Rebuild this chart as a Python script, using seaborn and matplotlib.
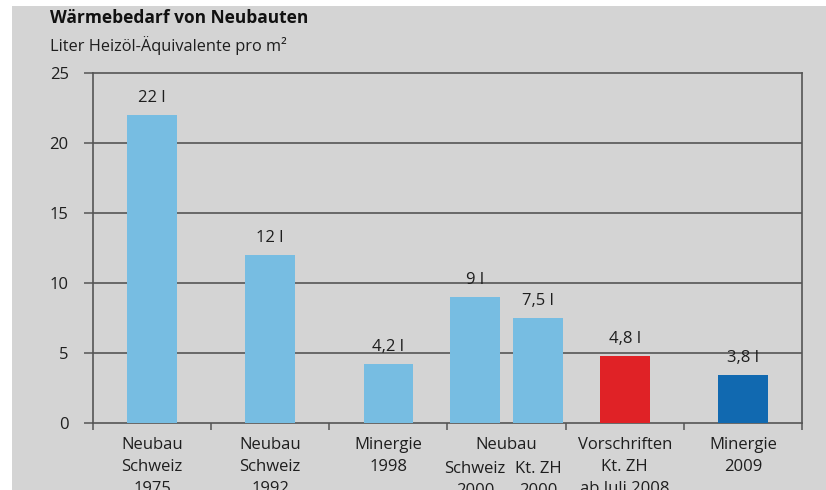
import matplotlib
matplotlib.use("Agg")
import matplotlib.pyplot as plt
import seaborn as sns
import pandas as pd
import numpy as np
from matplotlib.patches import Rectangle

# ---------------- data ----------------
category_labels = ["Neubau\nSchweiz\n1975", "Neubau\nSchweiz\n1992", "Minergie\n1998",
                   "Neubau", "Vorschriften\nKt. ZH\nab Juli 2008", "Minergie\n2009"]
bar_names = ["Neubau Schweiz 1975", "Neubau Schweiz 1992", "Minergie 1998",
             "Neubau Schweiz 2000", "Neubau Kt. ZH 2000",
             "Vorschriften Kt. ZH ab Juli 2008", "Minergie 2009"]
bar_category = [0, 1, 2, 3, 3, 4, 5]
bar_values = [22, 12, 4.2, 9, 7.5, 4.8, 3.45]
value_labels = ["22 l", "12 l", "4,2 l", "9 l", "7,5 l", "4,8 l", "3,8 l"]
sub_labels = ["", "", "", "Schweiz\n2000", "Kt. ZH\n2000", "", ""]
y_ticks = [0, 5, 10, 15, 20, 25]

# ---------------- style ----------------
LIGHT = "#77bde2"
RED = "#e02226"
DARK = "#1169b0"
bar_colors = [LIGHT, LIGHT, LIGHT, LIGHT, LIGHT, RED, DARK]
BG = "#d4d4d4"
LINE = "#555555"
TXT = "#1e1e1e"
FONT = ["Open Sans", "DejaVu Sans"]

sns.set_theme(style="white")
plt.rcParams["font.family"] = FONT
plt.rcParams["text.color"] = TXT

# positions: category centre, pairs split around it
pair_gap = 0.535
positions = []
for i, c in enumerate(bar_category):
    members = [j for j, cc in enumerate(bar_category) if cc == c]
    k = members.index(i)
    positions.append(c + 0.5 + (k - (len(members) - 1) / 2) * pair_gap)

df = pd.DataFrame({"pos": positions, "value": bar_values, "name": bar_names})

W, H = 826, 490
fig = plt.figure(figsize=(W / 100, H / 100), dpi=100, facecolor="white")
fig.patches.append(Rectangle((12 / W, 0), 1, (H - 6) / H, transform=fig.transFigure,
                             facecolor=BG, edgecolor="none", zorder=-10))
ax = fig.add_axes([93 / W, 67 / H, (802 - 93) / W, 350 / H])
ax.set_facecolor(BG)

native_unit = np.min(np.diff(np.unique(positions)))
sns.barplot(data=df, x="pos", y="value", hue="name", hue_order=bar_names,
            palette=dict(zip(bar_names, bar_colors)), native_scale=True,
            width=0.42 / native_unit, dodge=False, legend=False,
            saturation=1, errorbar=None, ax=ax, zorder=3,
            edgecolor="none", linewidth=0)

ax.set_xlim(0, len(category_labels))
ax.set_ylim(0, 25)
ax.set_xlabel("")
ax.set_ylabel("")

# y axis
ax.set_yticks(y_ticks)
ax.set_yticklabels([str(t) for t in y_ticks], fontsize=12, color=TXT)
ax.tick_params(axis="y", direction="out", length=6.5, width=1.1, color=LINE, pad=11, left=True)
for t in y_ticks[1:-1]:
    ax.axhline(t, color=LINE, lw=1.2, zorder=1)

# x axis: separators
ax.set_xticks(range(len(category_labels) + 1))
ax.set_xticklabels([])
ax.tick_params(axis="x", direction="out", length=5, width=1.1, color=LINE, bottom=True)

for s in ["left", "right", "top", "bottom"]:
    ax.spines[s].set_visible(True)
    ax.spines[s].set_color(LINE)
    ax.spines[s].set_linewidth(1.2)

# category labels
for i, lab in enumerate(category_labels):
    ax.annotate(lab, xy=(i + 0.5, 0), xycoords=("data", "axes fraction"),
                xytext=(0, -10), textcoords="offset points", ha="center", va="top",
                fontsize=12, linespacing=1.5, color=TXT, annotation_clip=False)
for p, lab in zip(positions, sub_labels):
    if lab:
        ax.annotate(lab, xy=(p, 0), xycoords=("data", "axes fraction"),
                    xytext=(0, -27), textcoords="offset points", ha="center", va="top",
                    fontsize=12, linespacing=1.5, color=TXT, annotation_clip=False)

# value labels
for p, v, lab in zip(positions, bar_values, value_labels):
    ax.annotate(lab, xy=(p, v), xytext=(0, 9.5), textcoords="offset points",
                ha="center", va="baseline", fontsize=12, color=TXT, zorder=5)

fig.text(50 / W, 1 - 18 / H, "Wärmebedarf von Neubauten", fontsize=12.5,
         fontweight="bold", ha="left", va="center", color="#111111")
fig.text(50 / W, 1 - 46 / H, "Liter Heizöl-Äquivalente pro m²", fontsize=11.8,
         ha="left", va="center", color=TXT)

fig.savefig("out.png", dpi=100, facecolor="white")
